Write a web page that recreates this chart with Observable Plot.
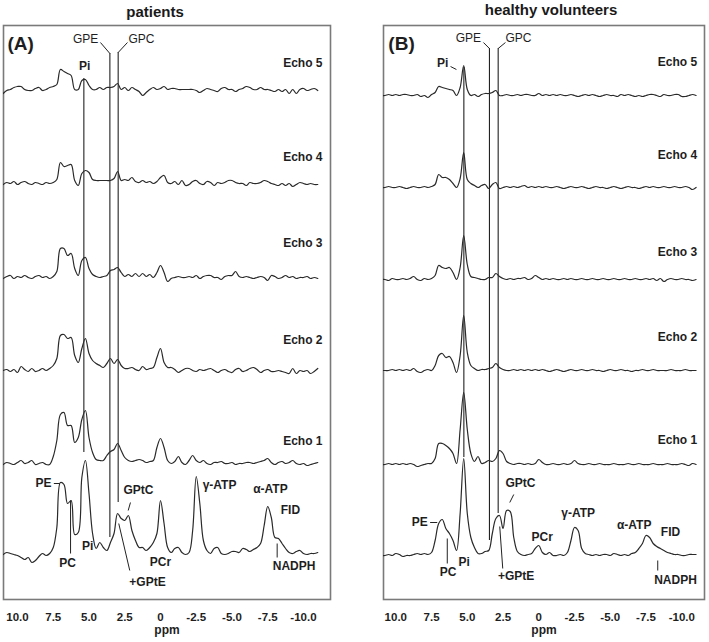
<!DOCTYPE html>
<html><head><meta charset="utf-8">
<script src="https://cdn.jsdelivr.net/npm/d3@7"></script>
<script src="https://cdn.jsdelivr.net/npm/@observablehq/plot@0.6"></script>
<style>
body{margin:0;background:#fff;font-family:"Liberation Sans",Arial,sans-serif;}
#fig{position:relative;width:709px;height:642px;overflow:hidden;}
.panel{position:absolute;top:0;}
.title{position:absolute;font-weight:bold;font-size:15px;color:#1a1a1a;transform:translate(-50%,-50%);white-space:nowrap;}
</style></head><body><div id="fig"></div>
<script>
// ppm sampling grid: 11 → -11 in 0.25 ppm steps (89 samples)
const ppmGrid = d3.range(89).map(i => 11 - i * 0.25);
const panelTitles = ["patients", "healthy volunteers"];
const panelTags = ["(A)", "(B)"];
const traceNames = ["FID", "Echo 1", "Echo 2", "Echo 3", "Echo 4", "Echo 5"];
const xTicks = [10, 7.5, 5, 2.5, 0, -2.5, -5, -7.5, -10];

// Panel A — patients (signal height per grid point)
const patientsFID = [0,2,1,0,-1,-3,-5,-3,-8,-6,-2,1,-1,
 1,7,27,72,70,51,54,20,22,77,94,61,
 21,6,12,7,4,12,21,41,36,34,39,24,
 14,7,7,4,7,12,21,54,31,7,2,6,
 7,2,0,2,24,78,51,14,4,1,6,7,
 1,0,1,3,3,2,6,5,3,5,7,11,
 29,48,37,17,16,11,6,2,1,3,4,1,
 0,1,1,2];
const patientsEcho1 = [-1,1,0,-1,1,3,0,1,3,-1,0,1,-1,
 -1,7,23,49,51,38,38,21,26,44,53,26,
 11,4,3,3,8,12,14,20,13,6,3,2,
 3,4,3,1,2,3,16,25,16,3,0,2,
 7,1,-1,3,8,3,1,3,0,-1,1,1,
 2,0,0,1,-1,0,0,1,1,0,1,2,
 3,5,1,-1,1,2,0,1,3,0,-1,0,
 -2,-1,0,1];
const patientsEcho2 = [0,1,-1,1,-2,4,1,-1,2,-1,0,2,0,
 2,5,12,35,36,32,33,15,8,22,32,17,
 10,7,5,3,7,12,7,11,5,2,2,3,
 1,0,4,1,2,3,13,22,8,3,3,1,
 -2,0,2,2,0,-1,1,0,1,2,0,-2,
 0,1,-1,-2,1,2,-1,0,2,3,1,-2,
 0,1,-1,-1,0,-1,-2,-3,2,-3,0,-1,
 0,-3,-1,2];
const patientsEcho3 = [-1,1,2,-1,1,0,2,0,-1,1,2,0,1,
 -1,1,6,29,29,22,24,9,2,17,20,9,
 3,1,0,1,2,7,8,10,5,1,3,1,
 4,1,4,1,3,0,5,12,5,-4,-1,0,
 1,0,0,1,0,2,-1,1,2,2,0,0,
 -2,1,2,2,6,1,0,1,0,-1,0,1,
 0,-3,2,1,-1,0,2,0,1,-1,0,0,
 1,-1,0,-1];
const patientsEcho4 = [-1,1,0,2,-1,1,2,0,-1,1,0,-1,1,
 0,1,4,21,17,18,19,3,-2,10,13,11,
 4,3,3,3,3,3,5,12,3,4,3,6,
 2,1,3,1,2,0,2,6,8,1,0,2,
 -1,3,-2,-1,2,3,0,-1,2,1,-2,1,
 0,1,3,3,1,0,0,-2,1,0,0,1,
 3,2,0,-1,-2,0,-2,0,-3,-1,1,0,
 -1,0,-1,-1];
const patientsEcho5 = [-4,-1,0,2,3,3,0,-1,-1,1,2,-1,0,
 2,3,5,20,18,16,14,0,0,9,10,4,
 0,0,2,0,2,2,3,6,0,2,-1,2,
 0,-2,-6,-3,0,2,0,1,3,0,1,1,
 0,0,0,0,0,-1,-3,-1,1,0,-1,-2,
 1,2,0,0,-2,0,1,3,2,0,0,2,
 0,0,-1,-2,0,-2,0,-4,0,-4,0,1,
 -1,0,1,-1];

// Panel B — healthy volunteers
const volunteersFID = [0,0,1,0,2,1,-1,0,0,1,2,1,2,
 1,3,15,32,36,27,22,15,5,42,97,42,
 18,8,2,2,4,5,22,37,40,27,45,44,
 18,4,1,0,1,2,7,10,3,1,3,0,
 0,1,0,3,15,28,25,7,2,1,0,1,
 0,1,1,0,2,1,0,1,0,2,3,7,
 12,20,18,12,9,7,5,3,2,1,1,0,
 0,1,1,1];
const volunteersEcho1 = [0,0,1,0,1,0,1,0,1,0,-2,-1,0,
 1,1,6,21,21,19,16,11,1,35,72,35,
 11,3,8,1,2,4,3,6,14,11,3,1,
 0,1,1,0,1,0,1,5,2,0,0,1,
 0,0,1,0,1,4,1,0,0,1,0,0,
 1,0,0,0,1,0,0,0,1,0,0,1,
 0,0,0,1,0,0,0,1,0,0,0,1,
 0,-1,1,0];
const volunteersEcho2 = [0,0,0,1,0,1,0,1,0,2,-1,-2,0,
 1,0,5,15,17,13,14,8,-2,15,55,18,
 5,2,0,1,1,2,3,7,3,1,0,0,
 1,0,1,0,1,0,1,0,1,0,-1,0,
 1,0,-1,0,1,0,0,1,0,0,1,0,
 0,-1,0,1,0,0,1,0,0,-1,0,0,
 1,0,0,1,0,0,0,0,1,0,0,0,
 1,0,0,0];
const volunteersEcho3 = [0,0,-1,1,0,0,1,0,1,3,0,-1,1,
 0,1,4,14,12,11,12,7,0,12,44,15,
 3,2,1,0,0,2,2,6,3,1,0,1,
 0,1,1,2,0,1,4,2,0,1,0,1,
 0,0,1,0,1,0,0,1,0,0,1,0,
 0,1,0,0,1,0,0,1,0,0,1,0,
 0,1,0,1,-1,1,-2,0,1,0,0,1,
 0,0,-1,0];
const volunteersEcho4 = [0,0,1,0,0,1,0,-1,0,1,0,0,1,
 0,1,3,13,10,10,8,4,0,9,35,8,
 4,2,0,2,3,-1,3,5,-1,0,1,0,
 1,0,1,2,0,1,0,1,0,1,0,0,
 1,0,-1,0,1,0,0,1,0,-1,0,1,
 0,0,-1,0,1,0,-1,0,1,0,0,-1,
 0,1,0,1,0,0,1,0,0,1,0,0,
 1,0,-2,0];
const volunteersEcho5 = [0,0,1,0,1,0,1,1,0,0,1,-1,0,
 -2,1,3,9,8,7,6,5,0,8,30,6,
 0,1,-1,1,2,2,3,5,0,0,1,0,
 0,1,0,1,1,0,0,2,0,1,0,1,
 0,1,0,0,1,0,-1,0,1,0,1,0,
 -1,0,1,0,0,-1,1,0,1,0,-1,0,
 -1,0,1,1,0,-1,1,0,0,1,1,-1,
 -1,0,1,0];

// ---------- layout / annotation (not data) ----------
const FONT = "'Liberation Sans', Arial, sans-serif";
const INK = "#1e1e1e";

const panels = [
  {
    title: panelTitles[0], tag: panelTags[0], left: 0, width: 350, mL: 3, mR: 20,
    xDomain: [10.98, -11.89], titlePos: [155, 11],
    series: [patientsFID, patientsEcho1, patientsEcho2, patientsEcho3, patientsEcho4, patientsEcho5],
    offsets: [45, 136, 229, 322, 416, 510],
    echoX: -11.33, echoY: [158, 259, 356, 442, 536],
    markers: [{x: 5.36, y1: 147, y2: 521}, {x: 3.54, y1: 62, y2: 546}, {x: 2.96, y1: 97, y2: 547}],
    leaders: [
      [4.2, 557, 3.54, 546], [2.31, 557, 2.96, 547],
      [7.46, 116, 7.04, 116], [6.29, 99, 6.29, 46],
      [2.1, 97, 2.26, 89], [2.92, 76, 2.15, 29], [-8.16, 56, -8.16, 42]
    ],
    tagX: 10.7,
    thin: [{t: "GPE", x: 5.24, y: 560}, {t: "GPC", x: 1.33, y: 560}],
    labels: [
      {t: "Pi", x: 5.31, y: 533}, {t: "PE", x: 8.18, y: 116}, {t: "PC", x: 6.5, y: 36},
      {t: "Pi", x: 5.1, y: 53}, {t: "GPtC", x: 1.54, y: 109}, {t: "+GPtE", x: 0.91, y: 17},
      {t: "PCr", x: 0, y: 37}, {t: "γ-ATP", x: -4.13, y: 114}, {t: "α-ATP", x: -7.69, y: 110},
      {t: "FID", x: -9.09, y: 89}, {t: "NADPH", x: -9.34, y: 33}
    ]
  },
  {
    title: panelTitles[1], tag: panelTags[1], left: 350, width: 359, mL: 33, mR: 5,
    xDomain: [10.86, -11.59], titlePos: [551, 9],
    series: [volunteersFID, volunteersEcho1, volunteersEcho2, volunteersEcho3, volunteersEcho4, volunteersEcho5],
    offsets: [44, 135, 229, 320, 412, 504],
    echoX: -11.08, echoY: [159, 262, 347, 444, 537],
    markers: [{x: 5.24, y1: 142, y2: 532}, {x: 3.45, y1: 59, y2: 551}, {x: 2.84, y1: 86, y2: 551}],
    leaders: [
      [3.87, 557, 3.45, 551], [2.33, 557, 2.84, 551], [6.17, 533, 5.76, 530],
      [7.6, 77, 7.1, 77], [6.4, 61, 6.4, 36],
      [2.03, 97, 1.75, 105], [2.73, 73, 2.52, 31], [-8.32, 39, -8.32, 29]
    ],
    tagX: 10.52,
    thin: [{t: "GPE", x: 4.92, y: 561}, {t: "GPC", x: 1.42, y: 561}],
    labels: [
      {t: "Pi", x: 6.73, y: 536}, {t: "PE", x: 8.33, y: 77}, {t: "PC", x: 6.34, y: 27},
      {t: "Pi", x: 5.22, y: 37}, {t: "GPtC", x: 1.28, y: 116}, {t: "+GPtE", x: 1.58, y: 23},
      {t: "PCr", x: -0.24, y: 62}, {t: "γ-ATP", x: -2.75, y: 86}, {t: "α-ATP", x: -6.67, y: 74},
      {t: "FID", x: -9.21, y: 67}, {t: "NADPH", x: -9.56, y: 19}
    ]
  }
];

const fig = document.getElementById("fig");

for (const p of panels) {
  const rows = p.series.flatMap((vals, k) =>
    vals.map((v, i) => ({ppm: ppmGrid[i], y: p.offsets[k] + v, trace: traceNames[k]})));
  const echoLabels = traceNames.slice(1).map((n, k) => ({t: n, x: p.echoX, y: p.echoY[k]}));
  const leaders = p.leaders.map(([x1, y1, x2, y2]) => ({x1, y1, x2, y2}));

  const chart = Plot.plot({
    width: p.width,
    height: 642,
    marginLeft: p.mL,
    marginRight: p.mR,
    marginTop: 25,
    marginBottom: 43,
    style: {fontFamily: FONT, color: INK, background: "transparent", overflow: "visible"},
    x: {domain: p.xDomain},
    y: {domain: [0, 574], axis: null},
    marks: [
      Plot.frame({stroke: "#7a7a7a", strokeWidth: 1.6}),
      Plot.ruleX(p.markers, {x: "x", y1: "y1", y2: "y2", stroke: "#222", strokeWidth: 1.1}),
      Plot.line(rows, {x: "ppm", y: "y", z: "trace", curve: "catmull-rom",
        stroke: "#2a2a2a", strokeWidth: 1.2, clip: true}),
      Plot.link(leaders, {x1: "x1", y1: "y1", x2: "x2", y2: "y2", stroke: "#222", strokeWidth: 1}),
      Plot.text(echoLabels, {x: "x", y: "y", text: "t", textAnchor: "end",
        fontSize: 12, fontWeight: "bold", fill: INK}),
      Plot.text(p.labels, {x: "x", y: "y", text: "t", fontSize: 12,
        fontWeight: "bold", fill: INK}),
      Plot.text(p.thin, {x: "x", y: "y", text: "t", fontSize: 12,
        fontWeight: "normal", fill: INK}),
      Plot.text([p.tag], {x: p.tagX, y: 556, text: d => d, textAnchor: "start",
        fontSize: 19, fontWeight: "bold", fill: INK}),
      Plot.axisX({ticks: xTicks, tickFormat: d => d === 0 ? "0" : d.toFixed(1),
        tickSize: 0, tickPadding: 13, fontSize: 11.5, fontWeight: "bold", label: null}),
      Plot.text(["ppm"], {frameAnchor: "bottom", dy: 34, text: d => d,
        fontSize: 12, fontWeight: "bold", fill: INK})
    ]
  });
  chart.classList.add("panel");
  chart.style.left = p.left + "px";
  fig.appendChild(chart);

  const t = document.createElement("div");
  t.className = "title";
  t.textContent = p.title;
  t.style.left = p.titlePos[0] + "px";
  t.style.top = p.titlePos[1] + "px";
  fig.appendChild(t);
}
</script>
</body></html>
